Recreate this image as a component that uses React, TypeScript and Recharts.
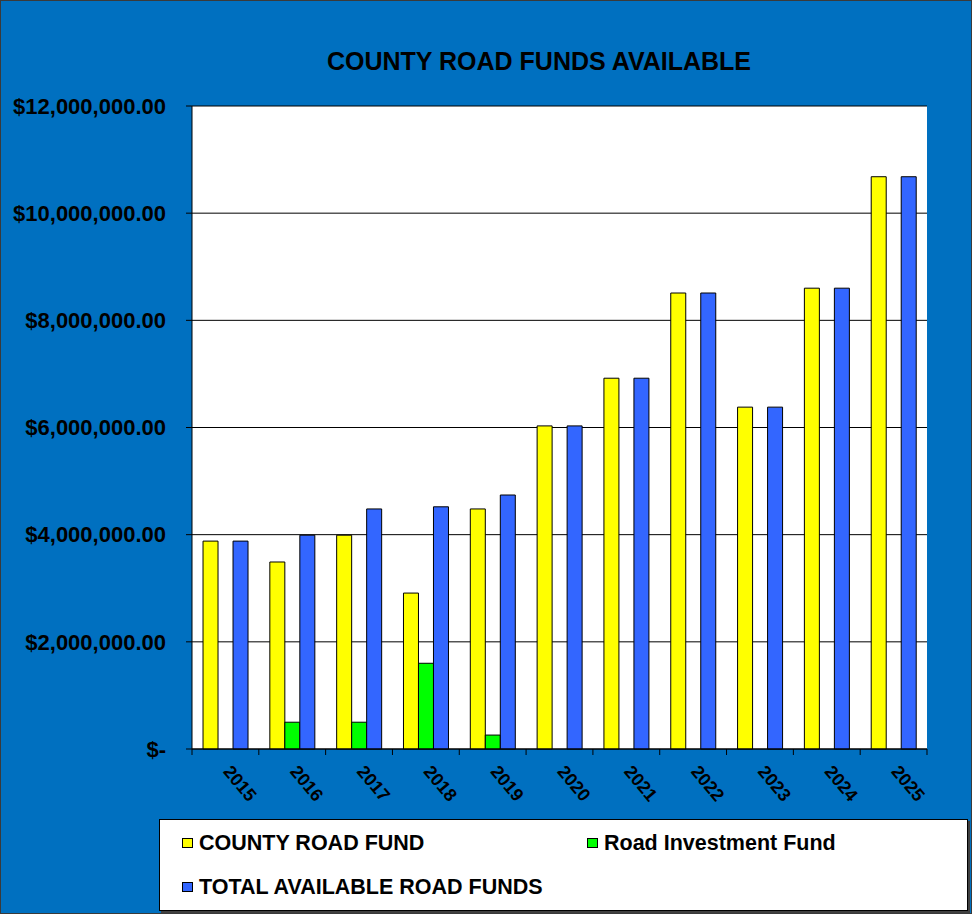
import React from 'react';
import { BarChart, Bar, XAxis, YAxis, CartesianGrid } from 'recharts';

const years = ['2015', '2016', '2017', '2018', '2019', '2020', '2021', '2022', '2023', '2024', '2025'];
const countyRoadFund = [3880000, 3490000, 3990000, 2910000, 4480000, 6030000, 6920000, 8510000, 6380000, 8600000, 10680000];
const roadInvestmentFund = [0, 500000, 500000, 1600000, 260000, 0, 0, 0, 0, 0, 0];
const totalAvailable = [3880000, 3990000, 4480000, 4520000, 4740000, 6030000, 6920000, 8510000, 6380000, 8600000, 10680000];
const yTicks = [0, 2000000, 4000000, 6000000, 8000000, 10000000, 12000000];

const seriesNames = ['COUNTY ROAD FUND', 'Road Investment Fund', 'TOTAL AVAILABLE ROAD FUNDS'];
const seriesColors = ['#FFFF00', '#00FF00', '#3366FF'];

const data = years.map((y, i) => ({
  year: y,
  county: countyRoadFund[i],
  invest: roadInvestmentFund[i],
  total: totalAvailable[i],
}));

const FONT = '"Liberation Sans", Arial, sans-serif';

const fmtY = (v: number) => {
  if (v === 0) return '$-';
  return '$' + v.toLocaleString('en-US', { minimumFractionDigits: 2, maximumFractionDigits: 2 });
};

const TICK_SIZE = 6;
const TICK_MARGIN = 2;

const YearTick = (props: any) => {
  const { x, y, payload, index, visibleTicksCount } = props;
  const half = payload && typeof payload.offset === 'number' ? payload.offset : 0;
  const ay = -(TICK_SIZE + TICK_MARGIN);
  const isLast = index === (visibleTicksCount ?? years.length) - 1;
  return (
    <g transform={`translate(${x},${y})`}>
      <line x1={-half} x2={-half} y1={ay} y2={ay + TICK_SIZE} stroke="#000" strokeWidth={1} />
      {isLast && <line x1={half} x2={half} y1={ay} y2={ay + TICK_SIZE} stroke="#000" strokeWidth={1} />}
      <text
        x={0}
        y={0}
        transform="translate(-3,15) rotate(50)"
        textAnchor="start"
        fontFamily={FONT}
        fontWeight="bold"
        fontSize={18}
        fill="#000"
      >
        {payload.value}
      </text>
    </g>
  );
};

export default function App() {
  return (
    <div style={{ position: 'absolute', left: 0, top: 0, width: 972, height: 914, background: '#0070C0', border: '1px solid #3a3a3a', boxSizing: 'border-box', overflow: 'hidden' }}>
      <div style={{ position: 'absolute', left: 0, top: 0 }}>
        <BarChart
          width={972}
          height={914}
          data={data}
          margin={{ top: 105, right: 46, left: 8, bottom: 106 }}
          barCategoryGap="16.5%"
          barGap={0}
        >
          <CartesianGrid vertical={false} stroke="#000" strokeOpacity={1} fill="#FFFFFF" fillOpacity={1} />
          <XAxis
            dataKey="year"
            interval={0}
            tick={<YearTick />}
            tickLine={false}
            tickSize={TICK_SIZE}
            tickMargin={TICK_MARGIN}
            axisLine={{ stroke: '#000' }}
            height={60}
          />
          <YAxis
            width={183}
            domain={[0, 12000000]}
            ticks={yTicks}
            tickFormatter={fmtY}
            tick={{ fontFamily: FONT, fontWeight: 'bold', fontSize: 22, fill: '#000' }}
            tickLine={{ stroke: '#000' }}
            axisLine={{ stroke: '#000' }}
            tickSize={6}
            tickMargin={20}
            interval={0}
          />
          <YAxis
            yAxisId="right"
            orientation="right"
            width={0}
            tick={false}
            tickLine={false}
            axisLine={{ stroke: '#8c8c8c' }}
            domain={[0, 12000000]}
          />
          <Bar dataKey="county" name={seriesNames[0]} fill={seriesColors[0]} stroke="#000" strokeWidth={1} isAnimationActive={false} />
          <Bar dataKey="invest" name={seriesNames[1]} fill={seriesColors[1]} stroke="#000" strokeWidth={1} isAnimationActive={false} />
          <Bar dataKey="total" name={seriesNames[2]} fill={seriesColors[2]} stroke="#000" strokeWidth={1} isAnimationActive={false} />
        </BarChart>
      </div>
      <div style={{ position: 'absolute', left: 238, top: 45, width: 600, textAlign: 'center', fontFamily: FONT, fontWeight: 'bold', fontSize: 25, color: '#000', lineHeight: '30px' }}>
        COUNTY ROAD FUNDS AVAILABLE
      </div>
      <div style={{ position: 'absolute', left: 158, top: 818, width: 809, height: 92, background: '#fff', border: '1px solid #000', boxSizing: 'border-box', boxShadow: '2px 2px 0 #404040' }}>
        {seriesNames.map((n, i) => {
          const col = i === 1 ? 1 : 0;
          const row = i === 2 ? 1 : 0;
          return (
            <div key={n} style={{ position: 'absolute', left: col === 0 ? 22 : 427, top: row === 0 ? 10 : 54, display: 'flex', alignItems: 'center', fontFamily: FONT, fontWeight: 'bold', fontSize: 21.5, color: '#000', lineHeight: '26px', whiteSpace: 'nowrap' }}>
              <span style={{ display: 'inline-block', width: 11, height: 10, background: seriesColors[i], border: '1px solid #000', boxSizing: 'border-box', marginRight: 6 }} />
              {n}
            </div>
          );
        })}
      </div>
    </div>
  );
}
